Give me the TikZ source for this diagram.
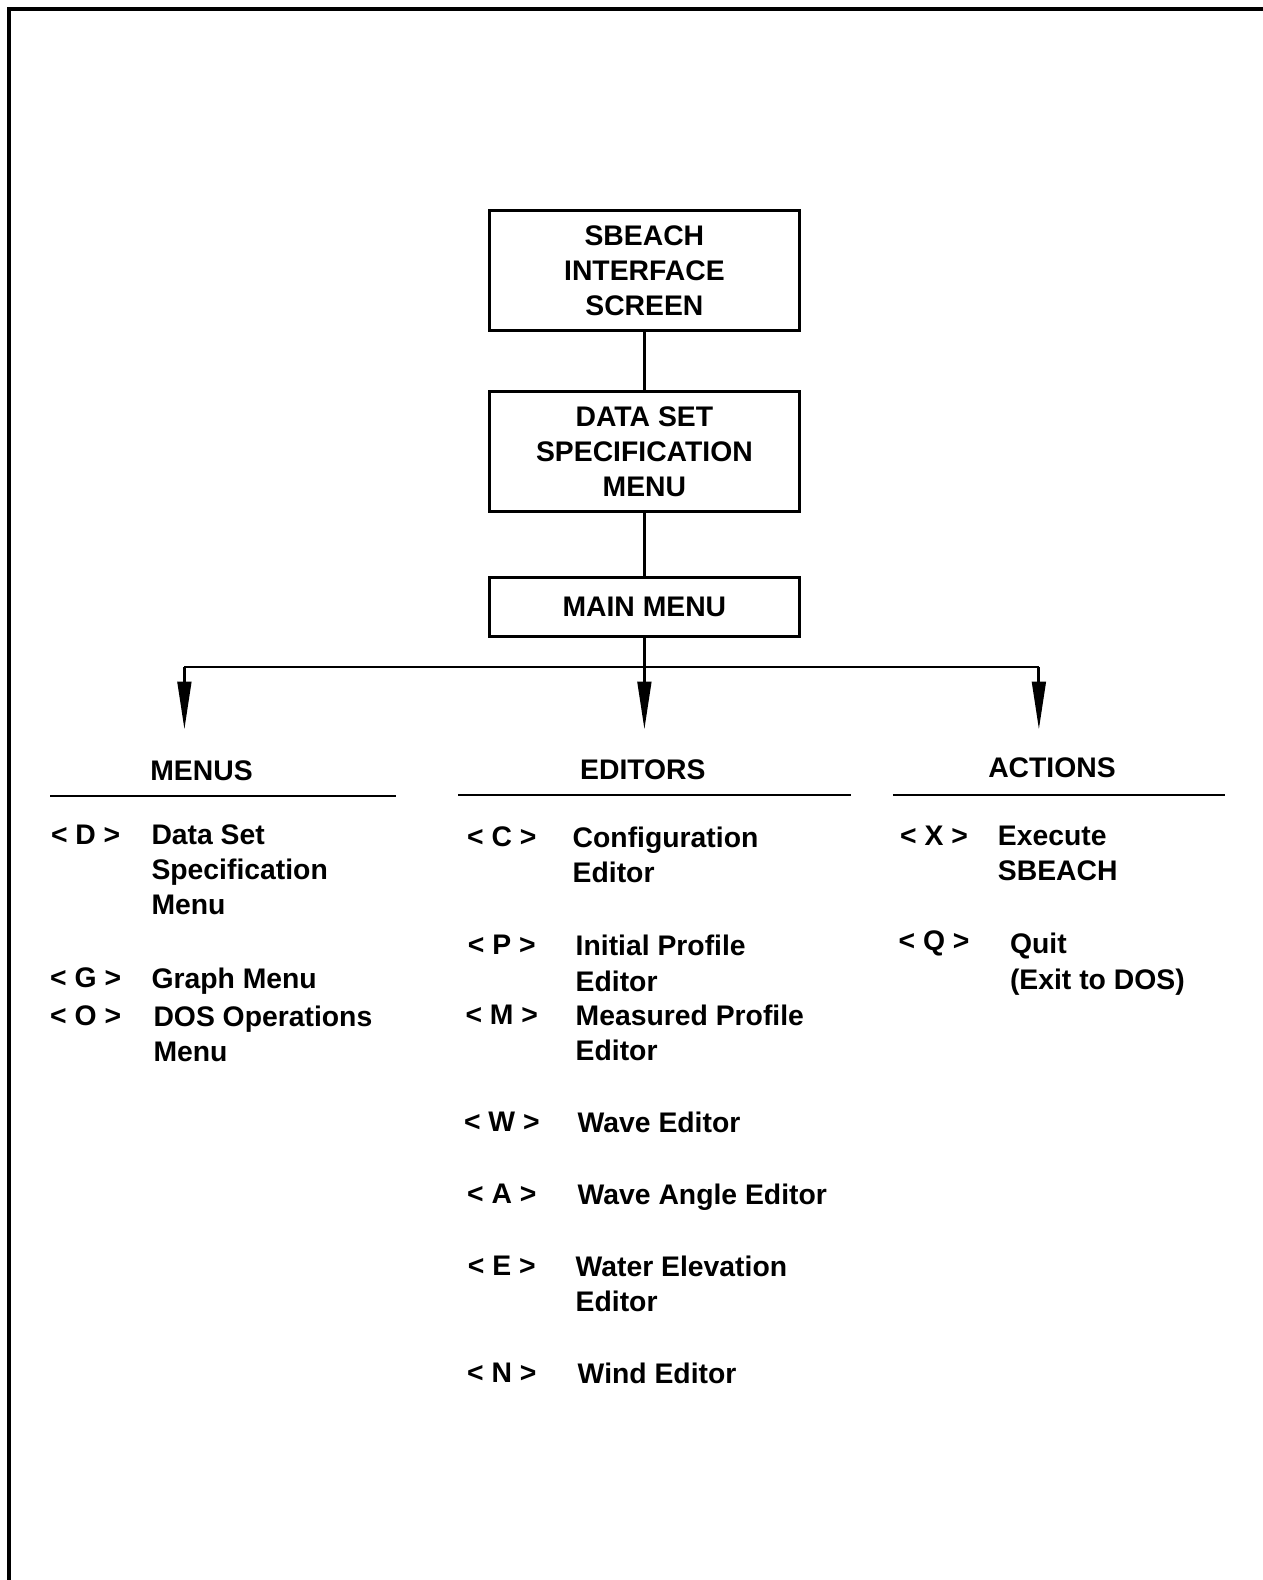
\documentclass[tikz,border=0pt]{standalone}
\usepackage{fontspec}
\setmainfont{Liberation Sans}
\usetikzlibrary{arrows.meta, positioning}

\begin{document}
\begin{tikzpicture}[
    x=0.02cm, y=-0.02cm,
    every node/.style={font=\fontsize{16}{19.9}\selectfont\bfseries},
    screen/.style={rectangle, draw, line width=1.7pt, minimum width=6.14cm, minimum height=2.38cm, align=center},
    menubar/.style={screen, minimum height=1.18cm},
    keyname/.style={anchor=center},
    entry/.style={anchor=north west, align=left, inner sep=0pt},
    link/.style={line width=1.6pt},
    arrow/.style={link, -{Triangle[length=0.95cm, width=0.27cm]}}
]
\useasboundingbox (0,0) rectangle (1253,1568);

% Frame
\draw[line width=2.3pt] (1253,9) -- (9,9) -- (9,1568);

% Screens
\node[screen] (intro) at (639.5,268.5) {SBEACH\\INTERFACE\\SCREEN};
\node[screen, below=1.16cm of intro] (dataset) {DATA SET\\SPECIFICATION\\MENU};
\node[menubar, below=1.24cm of dataset] (main) {MAIN MENU};

% Branch points
\coordinate (split) at (639.5,662);
\coordinate (left) at (183,662);
\coordinate (right) at (1031,662);
\coordinate (tomenus) at (183,724);
\coordinate (toeditors) at (639.5,724);
\coordinate (toactions) at (1031,724);

% Headings
\node (menus) at (200,765) {MENUS};
\node (editors) at (638,764) {EDITORS};
\node (actions) at (1044,762) {ACTIONS};
\draw[link] (50,790) -- (393,790);
\draw[link] (455,789) -- (845,789);
\draw[link] (886,789) -- (1216,789);

% Menus
\node[keyname] (kd) at (85,828) {< D >};
\node[entry] (ed) at (150,818) {Data Set\\Specification\\Menu};
\node[keyname] (kg) at (85,970) {< G >};
\node[entry] (eg) at (150,960) {Graph Menu};
\node[keyname] (ko) at (85,1008) {< O >};
\node[entry] (eo) at (152,998) {DOS Operations\\Menu};

% Editors
\node[keyname] (kc) at (498,830) {< C >};
\node[entry] (ec) at (568,820) {Configuration\\Editor};
\node[keyname] (kp) at (498,938) {< P >};
\node[entry] (ep) at (571,928) {Initial Profile\\Editor};
\node[keyname] (km) at (498,1007) {< M >};
\node[entry] (em) at (571,997) {Measured Profile\\Editor};
\node[keyname] (kw) at (498,1113) {< W >};
\node[entry] (ew) at (573,1103) {Wave Editor};
\node[keyname] (ka) at (498,1185) {< A >};
\node[entry] (ea) at (573,1175) {Wave Angle Editor};
\node[keyname] (ke) at (498,1256) {< E >};
\node[entry] (ee) at (571,1246) {Water Elevation\\Editor};
\node[keyname] (kn) at (498,1362) {< N >};
\node[entry] (en) at (573,1352) {Wind Editor};

% Actions
\node[keyname] (kx) at (927,829) {< X >};
\node[entry] (ex) at (990,819) {Execute\\SBEACH};
\node[keyname] (kq) at (927,936) {< Q >};
\node[entry] (eq) at (1002,926) {Quit\\(Exit to DOS)};

% Connectors
\draw[link] (intro) -- (dataset);
\draw[link] (dataset) -- (main);
\draw[link] (main) -- (split);
\draw[link] (left) -- (right);
\draw[arrow] (left) -- (tomenus);
\draw[arrow] (split) -- (toeditors);
\draw[arrow] (right) -- (toactions);

\end{tikzpicture}
\end{document}
